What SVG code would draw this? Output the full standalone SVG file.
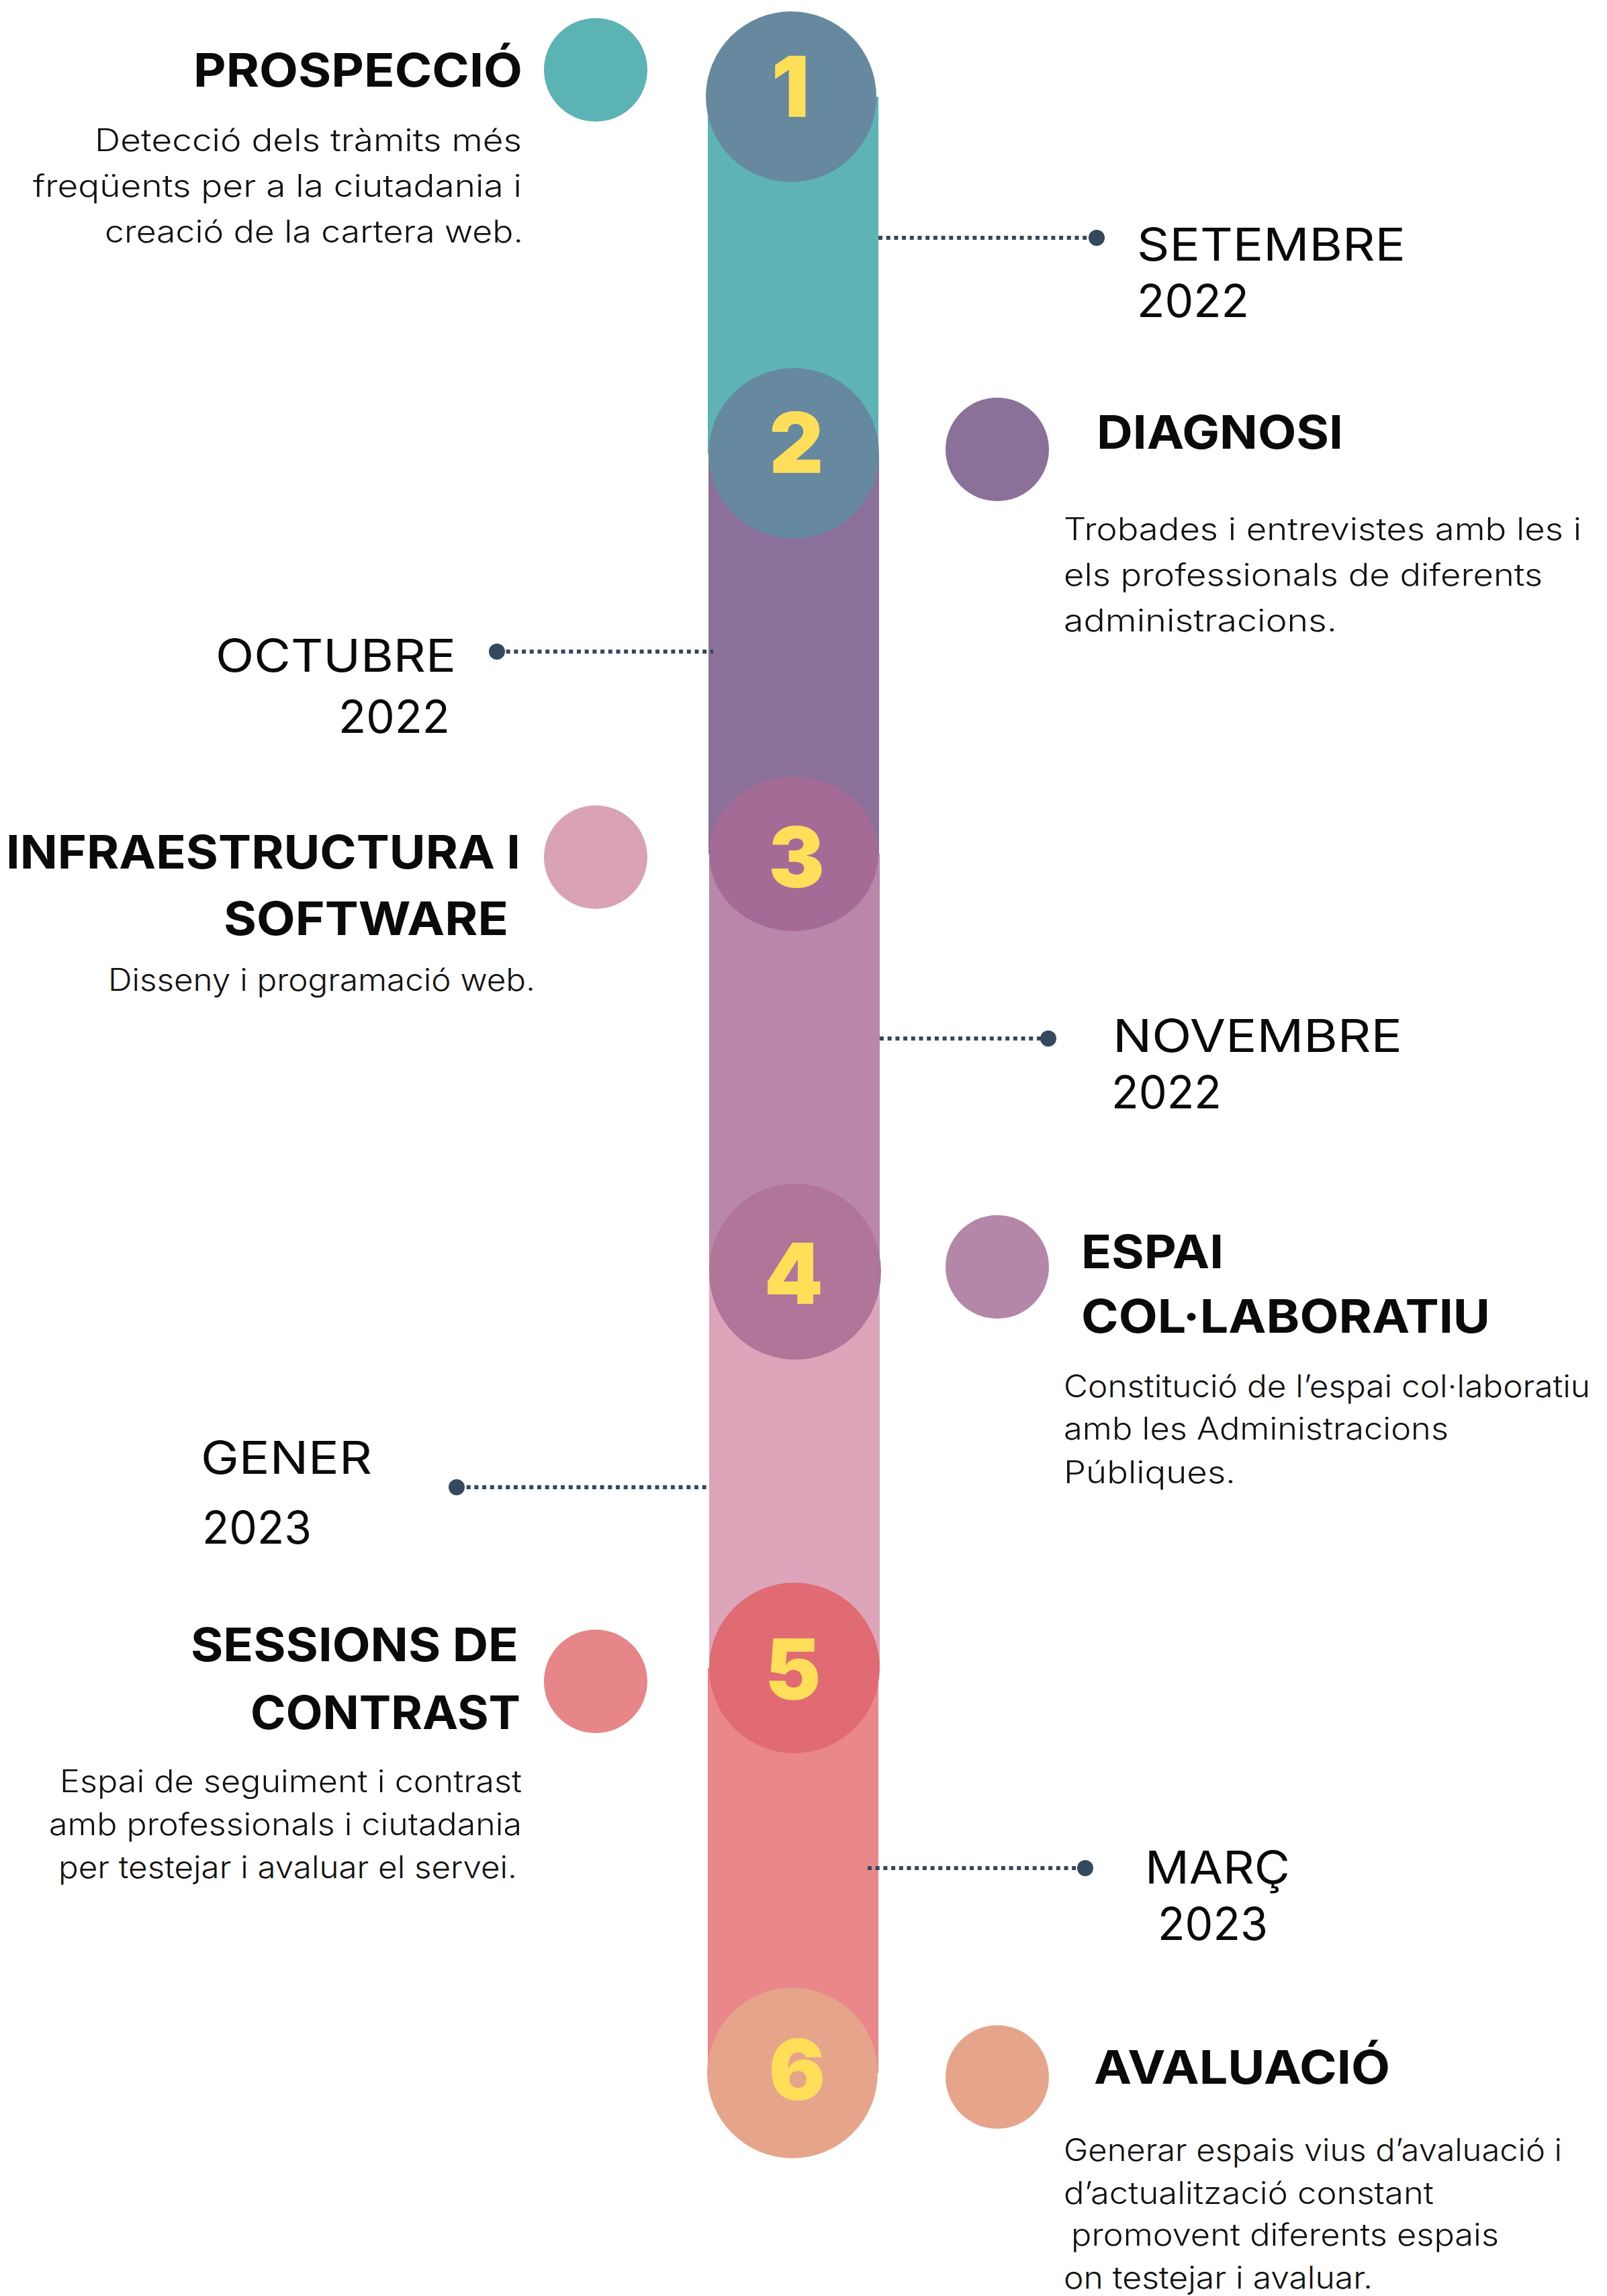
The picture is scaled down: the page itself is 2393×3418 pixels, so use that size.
<svg xmlns="http://www.w3.org/2000/svg" width="2393" height="3418" viewBox="0 0 2393 3418">
<style>
.h{font-family:Inter,"Open Sans","Liberation Sans",sans-serif;font-weight:700;font-size:69px;fill:#0a0a0a}
.d{font-family:Inter,"Open Sans","Liberation Sans",sans-serif;font-weight:400;font-size:67px;fill:#0a0a0a}
.t{font-family:Inter,"Open Sans","Liberation Sans",sans-serif;font-weight:300;font-size:46px;fill:#111}
.n{font-family:Inter,"Open Sans","Liberation Sans",sans-serif;font-weight:900;font-size:125px;fill:#FFDE59;text-anchor:middle}
.dot{stroke:#34495E;stroke-width:6;stroke-dasharray:6 5.7;fill:none}
.end{fill:#34495E}
</style>
<rect width="2393" height="3418" fill="#fff"/>
<g id="bar">
<rect x="1054" y="144" width="254" height="531" fill="#5EB3B4"/>
<rect x="1055" y="675" width="254" height="596" fill="#8B709A"/>
<rect x="1056" y="1271" width="254" height="622" fill="#B887A9"/>
<rect x="1056" y="1893" width="254" height="590" fill="#DCA5BA"/>
<rect x="1054" y="2483" width="254" height="603" fill="#E9878A"/>
</g>
<g id="connectors">
<line class="dot" x1="1308" y1="354" x2="1630" y2="354"/><circle class="end" cx="1633" cy="354" r="12"/>
<line class="dot" x1="742" y1="970" x2="1062" y2="970"/><circle class="end" cx="740" cy="970" r="12"/>
<line class="dot" x1="1310" y1="1546" x2="1558" y2="1546"/><circle class="end" cx="1561" cy="1546" r="12"/>
<line class="dot" x1="683" y1="2214" x2="1056" y2="2214"/><circle class="end" cx="680" cy="2214" r="12"/>
<line class="dot" x1="1292" y1="2781" x2="1613" y2="2781"/><circle class="end" cx="1616" cy="2781" r="12"/>
</g>
<g id="step1">
<circle cx="1178" cy="144" r="127" fill="#66899F"/>
<text class="n" x="1177" y="174">1</text>
<circle cx="887" cy="104" r="77" fill="#5BB3B3"/>
<text class="h" x="288" y="129" textLength="490" lengthAdjust="spacingAndGlyphs">PROSPECCIÓ</text>
<text class="t" x="141" y="225" textLength="636" lengthAdjust="spacingAndGlyphs">Detecció dels tràmits més</text>
<text class="t" x="49" y="293" textLength="728" lengthAdjust="spacingAndGlyphs">freqüents per a la ciutadania i</text>
<text class="t" x="156" y="361" textLength="623" lengthAdjust="spacingAndGlyphs">creació de la cartera web.</text>
</g>
<g id="date1">
<text class="d" x="1693" y="388" textLength="400" lengthAdjust="spacingAndGlyphs">SETEMBRE</text>
<text class="d" x="1693" y="472" textLength="167" lengthAdjust="spacingAndGlyphs">2022</text>
</g>
<g id="step2">
<circle cx="1182" cy="675" r="127" fill="#66899F"/>
<text class="n" x="1186" y="704">2</text>
<circle cx="1485" cy="669" r="77" fill="#8B7099"/>
<text class="h" x="1633" y="668" textLength="367" lengthAdjust="spacingAndGlyphs">DIAGNOSI</text>
<text class="t" x="1584" y="804" textLength="771" lengthAdjust="spacingAndGlyphs">Trobades i entrevistes amb les i</text>
<text class="t" x="1584" y="872" textLength="713" lengthAdjust="spacingAndGlyphs">els professionals de diferents</text>
<text class="t" x="1584" y="940" textLength="407" lengthAdjust="spacingAndGlyphs">administracions.</text>
</g>
<g id="date2">
<text class="d" x="321" y="1000" textLength="358" lengthAdjust="spacingAndGlyphs">OCTUBRE</text>
<text class="d" x="504" y="1091" textLength="166" lengthAdjust="spacingAndGlyphs">2022</text>
</g>
<g id="step3">
<ellipse cx="1182" cy="1271" rx="126" ry="115" fill="#A46B96"/>
<text class="n" x="1186" y="1321">3</text>
<circle cx="887" cy="1276" r="77" fill="#DAA2B6"/>
<text class="h" x="9" y="1293" textLength="766" lengthAdjust="spacingAndGlyphs">INFRAESTRUCTURA I</text>
<text class="h" x="333" y="1392" textLength="424" lengthAdjust="spacingAndGlyphs">SOFTWARE</text>
<text class="t" x="161" y="1475" textLength="636" lengthAdjust="spacingAndGlyphs">Disseny i programació web.</text>
</g>
<g id="date3">
<text class="d" x="1657" y="1566" textLength="431" lengthAdjust="spacingAndGlyphs">NOVEMBRE</text>
<text class="d" x="1655" y="1650" textLength="164" lengthAdjust="spacingAndGlyphs">2022</text>
</g>
<g id="step4">
<ellipse cx="1184" cy="1893" rx="128" ry="131" fill="#AF7699"/>
<text class="n" x="1182" y="1941">4</text>
<circle cx="1485" cy="1886" r="77" fill="#B487A9"/>
<text class="h" x="1610" y="1888" textLength="212" lengthAdjust="spacingAndGlyphs">ESPAI</text>
<text class="h" x="1610" y="1984" textLength="609" lengthAdjust="spacingAndGlyphs">COL·LABORATIU</text>
<text class="t" x="1584" y="2080" textLength="784" lengthAdjust="spacingAndGlyphs">Constitució de l’espai col·laboratiu</text>
<text class="t" x="1584" y="2143" textLength="573" lengthAdjust="spacingAndGlyphs">amb les Administracions</text>
<text class="t" x="1584" y="2208" textLength="256" lengthAdjust="spacingAndGlyphs">Públiques.</text>
</g>
<g id="date4">
<text class="d" x="299" y="2194" textLength="255" lengthAdjust="spacingAndGlyphs">GENER</text>
<text class="d" x="301" y="2298" textLength="163" lengthAdjust="spacingAndGlyphs">2023</text>
</g>
<g id="step5">
<circle cx="1183" cy="2483" r="127" fill="#E16B72"/>
<text class="n" x="1181" y="2530">5</text>
<circle cx="887" cy="2503" r="77" fill="#E68688"/>
<text class="h" x="284" y="2473" textLength="488" lengthAdjust="spacingAndGlyphs">SESSIONS DE</text>
<text class="h" x="373" y="2574" textLength="402" lengthAdjust="spacingAndGlyphs">CONTRAST</text>
<text class="t" x="89" y="2668" textLength="688" lengthAdjust="spacingAndGlyphs">Espai de seguiment i contrast</text>
<text class="t" x="73" y="2732" textLength="704" lengthAdjust="spacingAndGlyphs">amb professionals i ciutadania</text>
<text class="t" x="87" y="2796" textLength="683" lengthAdjust="spacingAndGlyphs">per testejar i avaluar el servei.</text>
</g>
<g id="date5">
<text class="d" x="1705" y="2804" textLength="216" lengthAdjust="spacingAndGlyphs">MARÇ</text>
<text class="d" x="1724" y="2888" textLength="164" lengthAdjust="spacingAndGlyphs">2023</text>
</g>
<g id="step6">
<circle cx="1180" cy="3086" r="127" fill="#E6A58B"/>
<text class="n" x="1187" y="3126">6</text>
<circle cx="1485" cy="3092" r="77" fill="#E6A48A"/>
<text class="h" x="1629" y="3102" textLength="441" lengthAdjust="spacingAndGlyphs">AVALUACIÓ</text>
<text class="t" x="1584" y="3217" textLength="742" lengthAdjust="spacingAndGlyphs">Generar espais vius d’avaluació i</text>
<text class="t" x="1584" y="3281" textLength="551" lengthAdjust="spacingAndGlyphs">d’actualització constant</text>
<text class="t" x="1595" y="3343" textLength="637" lengthAdjust="spacingAndGlyphs">promovent diferents espais</text>
<text class="t" x="1584" y="3407" textLength="460" lengthAdjust="spacingAndGlyphs">on testejar i avaluar.</text>
</g>
</svg>
